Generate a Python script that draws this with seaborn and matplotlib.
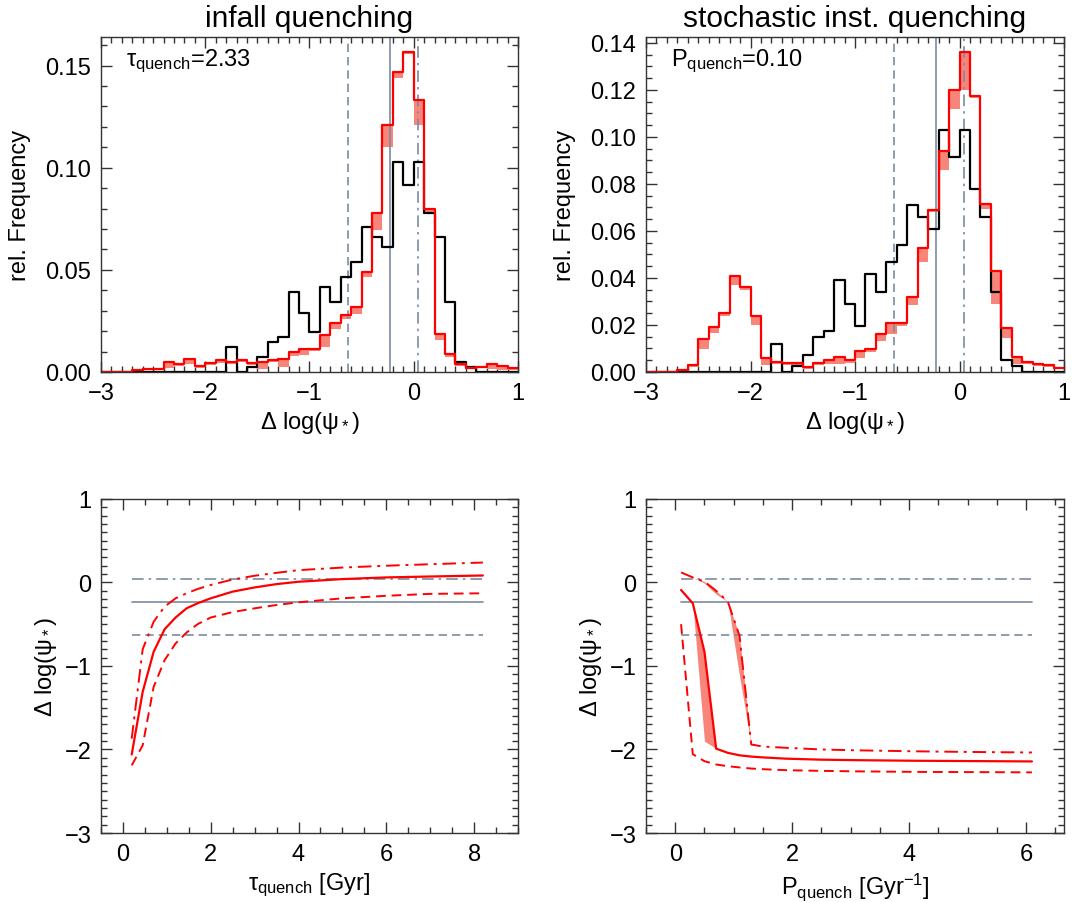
import numpy as np
import pandas as pd
import seaborn as sns
import matplotlib
matplotlib.use("Agg")
import matplotlib.pyplot as plt
from matplotlib.ticker import MultipleLocator, FormatStrFormatter

# --- histogram data: Delta log(psi*) in 0.1 dex bins from -3 to 1 ---
bin_edges = np.round(np.linspace(-3.0, 1.0, 41), 2)

obs_freq = [0, 0, 0, 0, 0, 0, 0, 0, 0, 0, 0, 0,
            0.012, 0.0, 0.0026, 0.0074, 0.0147, 0.0173, 0.039, 0.029,
            0.0196, 0.0417, 0.034, 0.0466, 0.054, 0.071, 0.066, 0.061,
            0.103, 0.0915, 0.103, 0.078, 0.066, 0.034, 0.005, 0.0025,
            0, 0, 0, 0]

infall_freq = [0, 0, 0, 0.001, 0.0013, 0.0016, 0.005, 0.004, 0.0065, 0.003,
               0.0045, 0.006, 0.005, 0.006, 0.0046, 0.005, 0.0057, 0.0065, 0.0098, 0.011,
               0.0114, 0.018, 0.024, 0.028, 0.032, 0.049, 0.078, 0.121, 0.147, 0.1565,
               0.133, 0.080, 0.0185, 0.0087, 0.004, 0.002, 0.0025, 0.0038, 0.003, 0.002]
infall_low = [0, 0, 0, 0.0005, 0.0008, 0.0011, 0.002, 0.003, 0.004, 0.002,
              0.0035, 0.0045, 0.004, 0.005, 0.0036, 0.0015, 0.0047, 0.0025, 0.0078, 0.0085,
              0.0104, 0.012, 0.021, 0.026, 0.0284, 0.0465, 0.0695, 0.110, 0.144, 0.1555,
              0.121, 0.078, 0.0155, 0.0072, 0.003, 0.0015, 0.002, 0.0013, 0.001, 0.001]

stoch_freq = [0, 0, 0, 0.001, 0.003, 0.014, 0.019, 0.025, 0.041, 0.036,
              0.024, 0.006, 0.0044, 0.0037, 0.004, 0.0023, 0.004, 0.005, 0.0064, 0.005,
              0.009, 0.0096, 0.016, 0.0207, 0.0207, 0.032, 0.0526, 0.069, 0.094, 0.12,
              0.136, 0.1174, 0.0716, 0.043, 0.0186, 0.0065, 0.0044, 0.0035, 0.003, 0.0018]
stoch_low = [0, 0, 0, 0.0005, 0.002, 0.0097, 0.0164, 0.024, 0.037, 0.035,
             0.020, 0.003, 0.0035, 0.003, 0.0025, 0.0013, 0.003, 0.0035, 0.0034, 0.004,
             0.006, 0.0086, 0.013, 0.016, 0.0197, 0.0283, 0.0466, 0.068, 0.0858, 0.112,
             0.120, 0.1164, 0.0692, 0.029, 0.0146, 0.0035, 0.0034, 0.0025, 0.002, 0.0013]

# observed percentiles (16th, median, 84th)
obs_lo, obs_med, obs_hi = -0.63, -0.23, 0.04

# --- infall quenching vs tau_quench ---
tau_grid = [0.2, 0.45, 0.7, 0.95, 1.2, 1.45, 1.7, 2.0, 2.5, 3.0, 3.5, 4.0, 5.0, 6.0, 7.0, 8.2]
tau_med = [-2.06, -1.31, -0.83, -0.56, -0.42, -0.31, -0.25, -0.19, -0.11, -0.06,
           -0.02, 0.008, 0.04, 0.06, 0.071, 0.083]
tau_hi = [-1.87, -0.80, -0.47, -0.29, -0.19, -0.13, -0.079, -0.03, 0.035, 0.08,
          0.115, 0.147, 0.178, 0.20, 0.218, 0.238]
tau_lo = [-2.19, -1.95, -1.25, -0.93, -0.73, -0.60, -0.50, -0.42, -0.355, -0.31,
          -0.27, -0.238, -0.19, -0.16, -0.137, -0.13]

# --- stochastic quenching vs P_quench ---
p_grid = [0.1, 0.3, 0.5, 0.7, 0.9, 1.1, 1.3, 1.5, 1.9, 2.5, 3.1, 4.1, 5.1, 6.1]
p_med = [-0.09, -0.25, -0.83, -1.99, -2.04, -2.07, -2.085, -2.095, -2.11, -2.122,
         -2.128, -2.135, -2.139, -2.143]
p_med_alt = [-0.09, -0.25, -1.90, -1.99, -2.04, -2.07, -2.085, -2.095, -2.11, -2.122,
             -2.128, -2.135, -2.139, -2.143]
p_hi = [0.12, 0.06, 0.01, -0.10, -0.23, -0.64, -1.94, -1.965, -1.98, -2.0,
        -2.01, -2.022, -2.03, -2.036]
p_hi_alt = [0.12, 0.06, -0.01, -0.14, -0.23, -1.12, -1.94, -1.965, -1.98, -2.0,
            -2.01, -2.022, -2.03, -2.036]
p_lo = [-0.50, -2.056, -2.14, -2.18, -2.20, -2.215, -2.228, -2.236, -2.248, -2.256,
        -2.262, -2.268, -2.271, -2.274]

RED = "#ff0000"
SALMON = "#f8857a"
GREY = "#7a8ba0"
DASH = (0, (5, 3))
DASHDOT = (0, (7, 3, 1.5, 3))

sns.set_style("ticks")
plt.rcParams["font.family"] = ["Liberation Sans", "DejaVu Sans"]
plt.rcParams["mathtext.fontset"] = "custom"
plt.rcParams["mathtext.rm"] = "Liberation Sans"
plt.rcParams["mathtext.it"] = "Liberation Sans"
plt.rcParams["mathtext.sf"] = "Liberation Sans"
for key in ["text.color", "axes.labelcolor", "xtick.color", "ytick.color", "axes.edgecolor"]:
    plt.rcParams[key] = "black"

fig = plt.figure(figsize=(10.72, 9.03), dpi=100)
ax_tl = fig.add_axes([0.0942, 0.587, 0.389, 0.371])
ax_tr = fig.add_axes([0.6026, 0.587, 0.390, 0.371])
ax_bl = fig.add_axes([0.0942, 0.0764, 0.389, 0.370])
ax_br = fig.add_axes([0.6026, 0.0764, 0.390, 0.370])

centers = 0.5 * (bin_edges[:-1] + bin_edges[1:])
edge_list = [float(e) for e in bin_edges]


def style_axes(ax, xmaj, xmin, ymaj, ymin):
    ax.xaxis.set_major_locator(MultipleLocator(xmaj))
    ax.xaxis.set_minor_locator(MultipleLocator(xmin))
    ax.yaxis.set_major_locator(MultipleLocator(ymaj))
    ax.yaxis.set_minor_locator(MultipleLocator(ymin))
    ax.tick_params(which="both", direction="in", top=True, right=True,
                   labelsize=17, width=1.0, color="#333333", labelcolor="black")
    ax.tick_params(which="major", length=8, pad=7)
    ax.tick_params(which="minor", length=4)
    for sp in ax.spines.values():
        sp.set_linewidth(1.0)
        sp.set_color("#333333")


def hist_panel(ax, model, low, title, label):
    ax.stairs(model, bin_edges, baseline=low, fill=True, color=SALMON, lw=0, zorder=1)
    for x, ls in [(obs_lo, DASH), (obs_med, "-"), (obs_hi, DASHDOT)]:
        ax.axvline(x, color=GREY, ls=ls, lw=1.2, zorder=2)
    df = pd.DataFrame({"x": centers, "obs": obs_freq, "model": model})
    sns.histplot(data=df, x="x", weights="obs", bins=edge_list, element="step",
                 fill=False, color="black", linewidth=1.6, ax=ax)
    sns.histplot(data=df, x="x", weights="model", bins=edge_list, element="step",
                 fill=False, color=RED, linewidth=1.6, ax=ax)
    ax.set_xlim(-3, 1)
    ax.set_title(title, fontsize=21.5, pad=8, color="black")
    ax.set_xlabel(r"$\Delta$ log($\psi_*$)", fontsize=17)
    ax.set_ylabel("rel. Frequency", fontsize=17, labelpad=10)
    ax.text(0.06, 0.93, label, transform=ax.transAxes, fontsize=17, va="center",
            color="black")
    ax.yaxis.set_major_formatter(FormatStrFormatter("%.2f"))


hist_panel(ax_tl, infall_freq, infall_low, "infall quenching",
           r"$\tau_{\rm quench}$=2.33")
style_axes(ax_tl, 1, 0.1, 0.05, 0.01)
ax_tl.set_ylim(0, 0.164)

hist_panel(ax_tr, stoch_freq, stoch_low, "stochastic inst. quenching",
           r"P$_{\rm quench}$=0.10")
style_axes(ax_tr, 1, 0.1, 0.02, 0.005)
ax_tr.set_ylim(0, 0.1425)


def trend_panel(ax, xs, med, lo, hi, xlabel):
    for y, ls in [(obs_lo, DASH), (obs_med, "-"), (obs_hi, DASHDOT)]:
        ax.plot([xs[0], xs[-1]], [y, y], color=GREY, ls=ls, lw=1.2, zorder=2)
    sns.lineplot(x=xs, y=med, color=RED, linewidth=1.6, ax=ax, zorder=4)
    sns.lineplot(x=xs, y=lo, color=RED, linewidth=1.4, linestyle=DASH, ax=ax, zorder=4)
    sns.lineplot(x=xs, y=hi, color=RED, linewidth=1.4, linestyle=DASHDOT, ax=ax, zorder=4)
    ax.set_ylim(-3, 1)
    ax.set_xlabel(xlabel, fontsize=17)
    ax.set_ylabel(r"$\Delta$ log($\psi_*$)", fontsize=17)


trend_panel(ax_bl, tau_grid, tau_med, tau_lo, tau_hi, r"$\tau_{\rm quench}$ [Gyr]")
style_axes(ax_bl, 2, 0.5, 1, 0.1)
ax_bl.set_xlim(-0.5, 9)

ax_br.fill_between(p_grid, p_med, p_med_alt, color=SALMON, lw=0, zorder=1)
ax_br.fill_between(p_grid, p_hi, p_hi_alt, color=SALMON, lw=0, zorder=1)
trend_panel(ax_br, p_grid, p_med, p_lo, p_hi, r"P$_{\rm quench}$ [Gyr$^{-1}$]")
style_axes(ax_br, 2, 0.5, 1, 0.1)
ax_br.set_xlim(-0.5, 6.65)

fig.savefig("out.png", dpi=100)
